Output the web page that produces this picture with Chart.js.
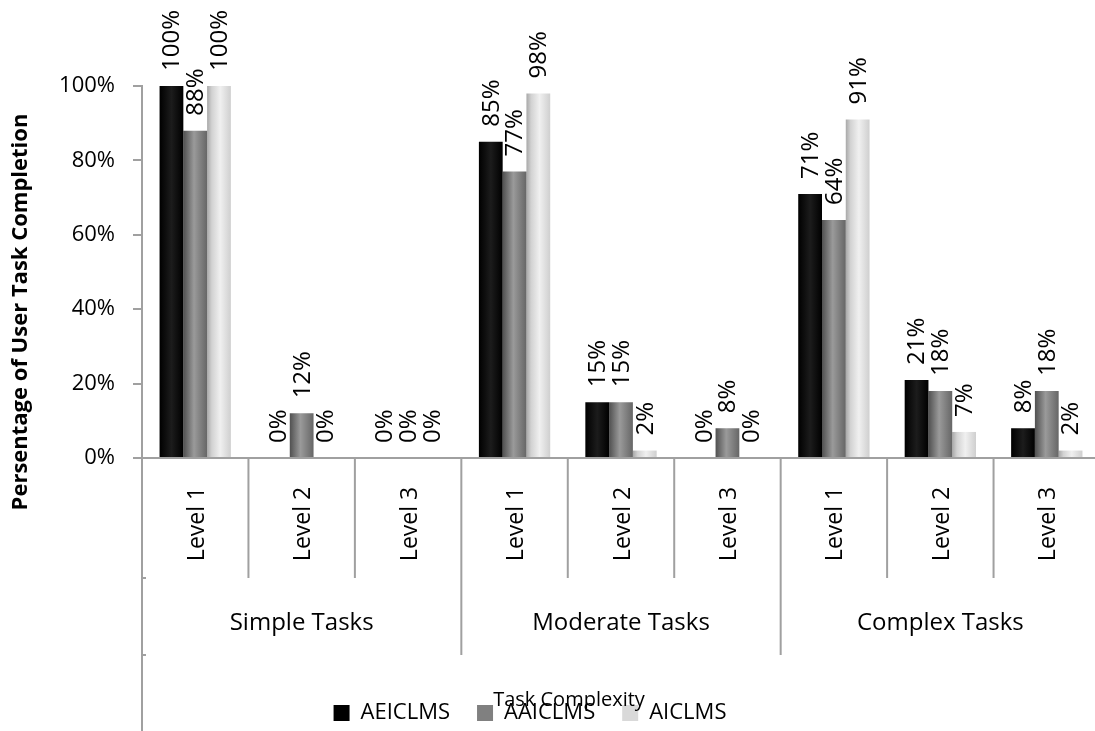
<!DOCTYPE html>
<html>
<head>
<meta charset="utf-8">
<script src="https://cdn.jsdelivr.net/npm/chart.js@4.4.1/dist/chart.umd.min.js"></script>
<style>
  html, body { margin: 0; padding: 0; background: #fff; overflow: hidden; }
  #wrap { width: 1100px; height: 731px; }
</style>
</head>
<body>
<div id="wrap"><canvas id="chart" width="1100" height="731"></canvas></div>
<script>
// category axis, two levels
const levels = ["Level 1", "Level 2", "Level 3", "Level 1", "Level 2", "Level 3", "Level 1", "Level 2", "Level 3"];
const groups = ["Simple Tasks", "Moderate Tasks", "Complex Tasks"];

// completion percentages per system
const aeiclms = [100, 0, 0, 85, 15, 0, 71, 21, 8];
const aaiclms = [88, 12, 0, 77, 15, 8, 64, 18, 18];
const aiclms = [100, 0, 0, 98, 2, 0, 91, 7, 2];

const yTicks = [0, 20, 40, 60, 80, 100];

const AXIS_GRAY = "#a0a0a0";
const FONT = "'Open Sans', 'Noto Sans', sans-serif";
const PLOT_BOTTOM = 458;

// excel-like cylinder shading for each series
const shades = [
  [[0, "#000000"], [0.5, "#1c1c1c"], [1, "#000000"]],
  [[0, "#505050"], [0.45, "#9a9a9a"], [1, "#666666"]],
  [[0, "#a8a8a8"], [0.2, "#d2d2d2"], [0.55, "#f0f0f0"], [1, "#cfcfcf"]]
];

const excelBits = {
  id: "excelBits",
  afterLayout(chart) {
    // legend sits left of the canvas centre in the original
    const lg = chart.legend;
    lg.left -= 20;
    lg.right -= 20;
    lg.top += 3;
    lg.bottom += 3;
  },
  beforeDatasetsDraw(chart) {
    const ctx = chart.ctx;
    chart.data.datasets.forEach((ds, i) => {
      chart.getDatasetMeta(i).data.forEach((bar) => {
        const g = ctx.createLinearGradient(bar.x - bar.width / 2, 0, bar.x + bar.width / 2, 0);
        shades[i].forEach((s) => g.addColorStop(s[0], s[1]));
        bar.options = Object.assign({}, bar.options, { backgroundColor: g });
      });
    });
  },
  afterDatasetsDraw(chart) {
    const ctx = chart.ctx;
    ctx.save();
    ctx.font = "24px " + FONT;
    ctx.fillStyle = "#000";
    ctx.textAlign = "left";
    ctx.textBaseline = "middle";
    chart.data.datasets.forEach((ds, i) => {
      chart.getDatasetMeta(i).data.forEach((bar, j) => {
        ctx.save();
        ctx.translate(bar.x + 1, bar.y - 15);
        ctx.rotate(-Math.PI / 2);
        ctx.fillText(ds.data[j] + "%", 0, 0);
        ctx.restore();
      });
    });
    ctx.restore();
  },
  afterDraw(chart) {
    const ctx = chart.ctx;
    const x = chart.scales.x;
    const area = chart.chartArea;
    const bottom = area.bottom;
    ctx.save();
    ctx.strokeStyle = AXIS_GRAY;
    ctx.lineWidth = 2;

    // value axis continues down through the category rows
    ctx.beginPath();
    ctx.moveTo(area.left, bottom);
    ctx.lineTo(area.left, chart.height);
    [120, 197].forEach((d) => {
      ctx.moveTo(area.left, bottom + d);
      ctx.lineTo(area.left + 4, bottom + d);
    });
    ctx.stroke();

    // category separators
    ctx.beginPath();
    for (let i = 1; i <= levels.length; i++) {
      const px = i < levels.length
        ? (x.getPixelForValue(i - 1) + x.getPixelForValue(i)) / 2
        : area.right;
      ctx.moveTo(px, bottom);
      ctx.lineTo(px, bottom + (i % 3 === 0 ? 197 : 120));
    }
    ctx.stroke();

    ctx.fillStyle = "#000";
    ctx.textAlign = "center";
    ctx.textBaseline = "middle";

    // level labels, rotated
    ctx.font = "23px " + FONT;
    levels.forEach((lab, i) => {
      ctx.save();
      ctx.translate(x.getPixelForValue(i) + 2, bottom + 66);
      ctx.rotate(-Math.PI / 2);
      ctx.fillText(lab, 0, 0);
      ctx.restore();
    });

    // group labels
    ctx.font = "24px " + FONT;
    groups.forEach((g, k) => {
      const cx = x.getPixelForValue(k * 3 + 1);
      ctx.fillText(g, cx, bottom + 165);
    });

    // axis titles
    ctx.font = "20px " + FONT;
    ctx.fillText("Task Complexity", 569, 700);

    ctx.save();
    ctx.font = "bold 22px " + FONT;
    ctx.translate(21, 312);
    ctx.rotate(-Math.PI / 2);
    ctx.fillText("Persentage of User Task Completion", 0, 0);
    ctx.restore();

    ctx.restore();
  }
};

new Chart(document.getElementById("chart"), {
  type: "bar",
  data: {
    labels: levels,
    datasets: [
      { label: "AEICLMS", data: aeiclms, backgroundColor: "#000000" },
      { label: "AAICLMS", data: aaiclms, backgroundColor: "#808080" },
      { label: "AICLMS", data: aiclms, backgroundColor: "#d9d9d9" }
    ]
  },
  options: {
    responsive: false,
    animation: false,
    layout: { padding: { top: 86, left: 0, right: 0, bottom: 0 } },
    datasets: {
      bar: { categoryPercentage: 0.67, barPercentage: 1.0, borderWidth: 0 }
    },
    plugins: {
      legend: {
        position: "bottom",
        labels: {
          color: "#000",
          font: { family: FONT, size: 22 },
          boxWidth: 16,
          boxHeight: 16,
          padding: 27
        }
      },
      tooltip: { enabled: false }
    },
    scales: {
      x: {
        ticks: { display: false },
        grid: { display: false },
        border: { display: true, color: AXIS_GRAY, width: 2 },
        afterFit(s) {
          s.height = s.chart.height - PLOT_BOTTOM - s.chart.legend.height;
        }
      },
      y: {
        min: 0,
        max: 100,
        afterBuildTicks(s) {
          s.ticks = yTicks.map((v) => ({ value: v }));
        },
        ticks: {
          color: "#000",
          padding: 18,
          font: { family: FONT, size: 22 },
          callback: (v) => v + "%"
        },
        grid: {
          drawOnChartArea: false,
          drawTicks: true,
          tickLength: 9,
          color: AXIS_GRAY,
          lineWidth: 2
        },
        border: { display: true, color: AXIS_GRAY, width: 2 },
        afterFit(s) {
          s.width = 142;
        }
      }
    }
  },
  plugins: [excelBits]
});
</script>
</body>
</html>
